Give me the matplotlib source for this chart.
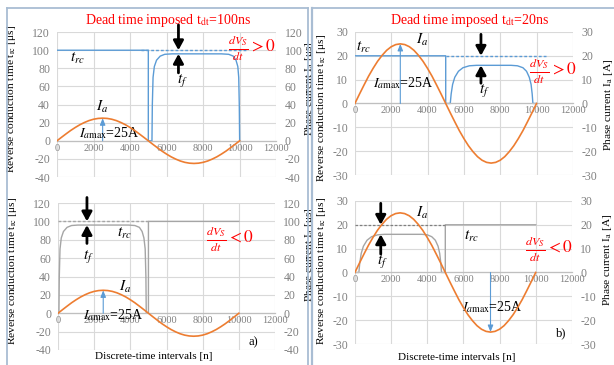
import matplotlib
matplotlib.use('Agg')
import matplotlib.pyplot as plt
from matplotlib.lines import Line2D

plt.rcParams['font.family'] = ['Liberation Serif', 'DejaVu Serif']
plt.rcParams['mathtext.fontset'] = 'stix'
plt.rcParams['axes.unicode_minus'] = False

BLUE = '#5b9bd5'
ORANGE = '#ed7d31'
GRAY = '#a5a5a5'
RED = '#ff0000'
FRAME = '#a9bdd3'

# phase current, sampled every 250 intervals
n_ia = list(range(0, 10001, 250))
ia = [0.0, 3.9, 7.7, 11.4, 14.7, 17.7, 20.2, 22.3, 23.8, 24.7, 25.0,
      24.7, 23.8, 22.3, 20.2, 17.7, 14.7, 11.4, 7.7, 3.9, 0.0,
      -3.9, -7.7, -11.4, -14.7, -17.7, -20.2, -22.3, -23.8, -24.7, -25.0,
      -24.7, -23.8, -22.3, -20.2, -17.7, -14.7, -11.4, -7.7, -3.9, 0.0]

# reverse conduction time, tdt = 100ns
n_a_pos = [0, 5000, 5000, 5200, 5220, 5260, 5330, 5450, 5650, 5900, 6300,
           9000, 9400, 9650, 9800, 9900, 9950, 9980, 10000]
trc_a_pos = [100, 100, 0, 0, 40, 70, 82, 89, 93.5, 95.5, 96,
             96, 95.5, 93.5, 89, 82, 70, 40, 0]
n_a_neg = [0, 50, 70, 110, 180, 300, 500, 750, 1100,
           3900, 4250, 4500, 4650, 4750, 4820, 4860, 4880, 5000, 5000, 10000]
trc_a_neg = [0, 0, 40, 70, 82, 89, 93.5, 95.5, 96,
             96, 95.5, 93.5, 89, 82, 70, 40, 0, 0, 100, 100]

# reverse conduction time, tdt = 20ns
n_b_pos = [0, 5000, 5000, 5250, 5300, 5380, 5500, 5700, 5950, 6300, 6700,
           8600, 8950, 9250, 9450, 9600, 9700, 9760, 9800, 10000]
trc_b_pos = [20, 20, 0, 0, 4, 8, 11, 13.5, 15, 15.8, 16,
             16, 15.8, 15, 13.5, 11, 8, 4, 0, 0]
n_b_neg = [0, 220, 270, 350, 470, 670, 920, 1270, 1650,
           3700, 4000, 4250, 4450, 4600, 4690, 4750, 4790, 5000, 5000, 10000]
trc_b_neg = [0, 0, 4, 8, 11, 13.5, 15, 15.8, 16,
             16, 15.8, 15, 13.5, 11, 8, 4, 0, 0, 20, 20]

# imposed dead time reference lines
dash_a_pos = ([4600, 10400], [100, 100])
dash_a_neg = ([0, 5000], [100, 100])
dash_b_pos = ([5000, 10600], [20, 20])
dash_b_neg = ([0, 5000], [20, 20])

x_ticks = list(range(0, 12001, 2000))
y_ticks_a = list(range(-40, 121, 20))
y_ticks_b = list(range(-30, 31, 10))

fig = plt.figure(figsize=(6.14, 3.65), dpi=100)

LABSIZE = 8.2


def panel(rect, yticks, left_lab, right_lab, lab_pos, xlabel=None, xlab_pos=None):
    ax = fig.add_axes(rect)
    ax.set_xlim(0, 12000)
    ax.set_ylim(yticks[0], yticks[-1])
    ax.set_xticks(x_ticks)
    ax.set_yticks(yticks)
    ax.grid(True, color='#d9d9d9', lw=0.8)
    ax.set_axisbelow(True)
    for s in ['left', 'right', 'top']:
        ax.spines[s].set_visible(False)
    ax.spines['bottom'].set_position(('data', 0))
    ax.spines['bottom'].set_color('#bfbfbf')
    ax.spines['bottom'].set_linewidth(0.9)
    ax.tick_params(axis='x', length=0, pad=2, labelsize=7.5, labelcolor='#808080')
    ax.tick_params(axis='y', length=0, pad=5, labelsize=8.5, labelcolor='#808080')
    ax.set_ylabel(left_lab, fontsize=LABSIZE)
    ax.yaxis.set_label_coords(*lab_pos[0])

    ax2 = ax.twinx()
    ax2.set_ylim(yticks[0], yticks[-1])
    ax2.set_yticks(yticks)
    for s in ax2.spines.values():
        s.set_visible(False)
    ax2.tick_params(axis='y', length=0, pad=6, labelsize=8.5, labelcolor='#808080')
    ax2.set_ylabel(right_lab, fontsize=LABSIZE)
    ax2.yaxis.set_label_coords(*lab_pos[1])
    if xlabel:
        ax.set_xlabel(xlabel, fontsize=8)
        ax.xaxis.set_label_coords(*xlab_pos)
    return ax, ax2


def big_arrow(ax, x, y0, y1):
    ax.annotate('', xy=(x, y1), xytext=(x, y0), annotation_clip=False,
                arrowprops=dict(arrowstyle='-|>,head_length=0.55,head_width=0.3',
                                color='black', lw=2, shrinkA=0, shrinkB=0,
                                mutation_scale=10))


def thin_arrow(ax, x, y0, y1):
    ax.annotate('', xy=(x, y1), xytext=(x, y0),
                arrowprops=dict(arrowstyle='-|>,head_length=0.5,head_width=0.2',
                                color=BLUE, lw=0.8, shrinkA=0, shrinkB=0,
                                mutation_scale=8))


lab_trc = r'Reverse conduction time t$_{\mathrm{rc}}$ [μs]'
mfont = 11
ffont = 12.5

# a) top: dVs/dt > 0, tdt = 100ns
ax, ax2 = panel([0.0928, 0.515, 0.357, 0.397], y_ticks_a,
                lab_trc, r'Phase current I$_{\mathrm{a}}$ [μs]',
                [(-0.178, 0.54), (1.123, 0.61)])
ax2.plot(n_ia, ia, color=ORANGE, lw=1.2)
ax.plot(n_a_pos, trc_a_pos, color=BLUE, lw=1.0)
ax.plot(*dash_a_pos, color=BLUE, lw=1.0, dashes=(2, 1.5))
thin_arrow(ax, 2500, 0, 25)
big_arrow(ax, 6650, 128, 100)
big_arrow(ax, 6650, 75, 96)
ax.text(1100, 91, r'$t_{rc}$', fontsize=mfont, ha='center', va='center')
ax.text(2470, 37, r'$I_a$', fontsize=mfont, ha='center', va='center')
ax.text(1200, 8, r'$I_{a\mathrm{max}}$=25A', fontsize=10, ha='left', va='center')
ax.text(6850, 67, r'$t_f$', fontsize=mfont, ha='center', va='center')
ax.text(10650, 102, r'$\frac{dV_S}{dt} > 0$', fontsize=ffont, color=RED,
        ha='center', va='center', clip_on=False)
fig.text(0.274, 0.945, r'Dead time imposed t$_{\mathrm{dt}}$=100ns', color=RED,
         fontsize=10, ha='center', va='center')

# a) bottom: dVs/dt < 0, tdt = 100ns
ax, ax2 = panel([0.0945, 0.0411, 0.3534, 0.4027], y_ticks_a,
                lab_trc, r'Phase current I$_{\mathrm{a}}$ [μs]',
                [(-0.18, 0.54), (1.13, 0.65)],
                'Discrete-time intervals [n]', (0.44, -0.012))
ax2.plot(n_ia, ia, color=ORANGE, lw=1.2)
ax.plot(n_a_neg, trc_a_neg, color=GRAY, lw=1.0)
ax.plot(*dash_a_neg, color=GRAY, lw=1.0, dashes=(2, 1.5))
thin_arrow(ax, 2500, 0, 25)
big_arrow(ax, 1600, 126, 100)
big_arrow(ax, 1600, 76, 96)
ax.text(3700, 87, r'$t_{rc}$', fontsize=mfont, ha='center', va='center')
ax.text(3700, 29, r'$I_a$', fontsize=mfont, ha='center', va='center')
ax.text(1400, -2, r'$I_{a\mathrm{max}}$=25A', fontsize=10, ha='left', va='center')
ax.text(1660, 62, r'$t_f$', fontsize=mfont, ha='center', va='center')
ax.text(9500, 80, r'$\frac{dV_S}{dt} < 0$', fontsize=ffont, color=RED,
        ha='center', va='center')
ax.text(10800, -32, 'a)', fontsize=9, ha='center', va='center')

# b) top: dVs/dt > 0, tdt = 20ns
ax, ax2 = panel([0.578, 0.5205, 0.355, 0.392], y_ticks_b,
                lab_trc, r'Phase current I$_{\mathrm{a}}$ [A]',
                [(-0.124, 0.47), (1.135, 0.49)])
ax2.plot(n_ia, ia, color=ORANGE, lw=1.2)
ax.plot(n_b_pos, trc_b_pos, color=BLUE, lw=1.0)
ax.plot(*dash_b_pos, color=BLUE, lw=1.0, dashes=(2, 1.5))
thin_arrow(ax, 2500, 0, 25)
big_arrow(ax, 6940, 29, 20)
big_arrow(ax, 6940, 8.5, 16)
ax.text(450, 23.3, r'$t_{rc}$', fontsize=mfont, ha='center', va='center')
ax.text(3700, 26.6, r'$I_a$', fontsize=mfont, ha='center', va='center')
ax.text(1000, 8.5, r'$I_{a\mathrm{max}}$=25A', fontsize=10, ha='left', va='center')
ax.text(7150, 5.6, r'$t_f$', fontsize=mfont, ha='center', va='center')
ax.text(10900, 13.3, r'$\frac{dV_S}{dt} > 0$', fontsize=ffont, color=RED,
        ha='center', va='center', clip_on=False)
fig.text(0.765, 0.945, r'Dead time imposed t$_{\mathrm{dt}}$=20ns', color=RED,
         fontsize=10, ha='center', va='center')

# b) bottom: dVs/dt < 0, tdt = 20ns
ax, ax2 = panel([0.578, 0.0575, 0.3534, 0.392], y_ticks_b,
                lab_trc, r'Phase current I$_{\mathrm{a}}$ [A]',
                [(-0.124, 0.51), (1.135, 0.59)],
                'Discrete-time intervals [n]', (0.47, -0.065))
ax2.plot(n_ia, ia, color=ORANGE, lw=1.2)
ax.plot(n_b_neg, trc_b_neg, color=GRAY, lw=1.0)
ax.plot(*dash_b_neg, color='#7f7f7f', lw=0.9, dashes=(2, 1.5))
thin_arrow(ax, 7500, 0, -25)
big_arrow(ax, 1430, 29, 20)
big_arrow(ax, 1430, 7.7, 16)
ax.text(6440, 15, r'$t_{rc}$', fontsize=mfont, ha='center', va='center')
ax.text(3740, 25, r'$I_a$', fontsize=mfont, ha='center', va='center')
ax.text(5900, -14.6, r'$I_{a\mathrm{max}}$=25A', fontsize=10, ha='left', va='center')
ax.text(1540, 4.5, r'$t_f$', fontsize=mfont, ha='center', va='center')
ax.text(10730, 9.6, r'$\frac{dV_S}{dt} < 0$', fontsize=ffont, color=RED,
        ha='center', va='center')
ax.text(11400, -25.6, 'b)', fontsize=9, ha='center', va='center')

# panel frames
W, H = 614.0, 365.0
def frame_line(x0, y0, x1, y1, lw=1.3):
    fig.add_artist(Line2D([x0 / W, x1 / W], [1 - y0 / H, 1 - y1 / H],
                          transform=fig.transFigure, color=FRAME, lw=lw))

frame_line(7, 8, 7, H)
frame_line(7, 8, 308, 8)
frame_line(308, 8, 308, H)
frame_line(312, 8, 312, H, lw=1.6)
frame_line(312, 8, W, 8)

fig.savefig('out.png', dpi=100)
